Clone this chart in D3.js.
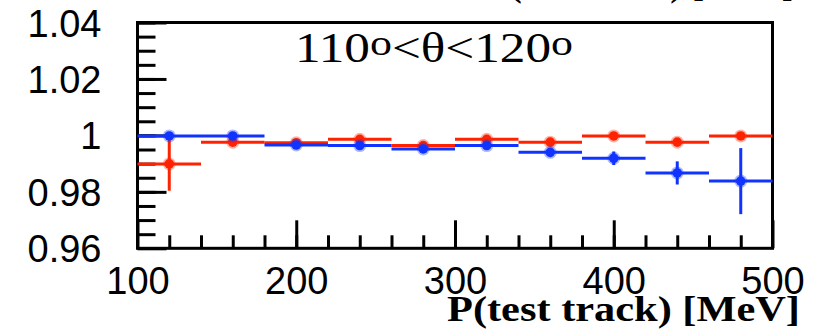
<!DOCTYPE html>
<html>
<head>
<meta charset="utf-8">
<script src="https://cdn.jsdelivr.net/npm/d3@7"></script>
<style>
  body { margin: 0; background: #fff; }
</style>
</head>
<body>
<div id="plot"></div>
<script>
// momentum bins of the test track [MeV]
const binLow    = [100, 140, 180, 220, 260, 300, 340, 380, 420, 460];
const binHigh   = [140, 180, 220, 260, 300, 340, 380, 420, 460, 500];
const binCenter = [120, 160, 200, 240, 280, 320, 360, 400, 440, 480];

// red series
const redValues = [0.9899, 0.9976, 0.9974, 0.9986, 0.9964, 0.9986, 0.9976, 0.9998, 0.9976, 0.9998];
const redErrors = [0.0095, 0.0010, 0.0010, 0.0008, 0.0008, 0.0008, 0.0008, 0.0008, 0.0008, 0.0008];

// blue series
const blueValues = [0.9998, 0.9998, 0.9966, 0.9964, 0.9952, 0.9964, 0.9940, 0.9919, 0.9867, 0.9838];
const blueErrors = [0.0008, 0.0008, 0.0008, 0.0008, 0.0008, 0.0008, 0.0012, 0.0024, 0.0041, 0.0117];

const xTicks = [100, 200, 300, 400, 500];
const xTickLabels = ["100", "200", "300", "400", "500"];
const yTicks = [0.96, 0.98, 1, 1.02, 1.04];
const yTickLabels = ["0.96", "0.98", "1", "1.02", "1.04"];

const xTitle = "P(test track) [MeV]";

// set svg dimensions and margins
const svgWidth = 816;
const svgHeight = 332;
const margin = {top: 22.5, right: 43.5, bottom: 83.7, left: 137.5};
const width = svgWidth - margin.left - margin.right;
const height = svgHeight - margin.top - margin.bottom;

let root = d3.select("#plot")
  .append("svg")
  .attr("width", svgWidth)
  .attr("height", svgHeight)
  .style("background-color", "#ffffff");

let svg = root.append("g")
  .attr("transform", "translate(" + margin.left + "," + margin.top + ")");

var xScale = d3.scaleLinear().domain([100, 500]).range([0, width]);
var yScale = d3.scaleLinear().domain([0.96, 1.04]).range([height, 0]);

// minor ticks (inside the frame, ROOT style)
svg.append("g")
  .attr("class", "minor")
  .attr("transform", "translate(0," + height + ")")
  .call(d3.axisBottom(xScale).tickValues(d3.range(120, 500, 20)).tickSize(-13).tickFormat(""));
svg.append("g")
  .attr("class", "minor")
  .call(d3.axisLeft(yScale).tickValues(d3.range(0.965, 1.04, 0.005)).tickSize(-18).tickFormat(""));

// major ticks + labels
let xAxis = svg.append("g")
  .attr("transform", "translate(0," + height + ")")
  .call(d3.axisBottom(xScale).tickValues(xTicks).tickSize(-28)
    .tickFormat(function(d, i) { return xTickLabels[i]; }));
xAxis.selectAll("text").attr("y", 46).attr("dy", 0);

let yAxis = svg.append("g")
  .call(d3.axisLeft(yScale).tickValues(yTicks).tickSize(-29)
    .tickFormat(function(d, i) { return yTickLabels[i]; }));
yAxis.selectAll("text").attr("x", -36).attr("dy", 13.5);

svg.selectAll(".domain").remove();
svg.selectAll(".tick line").attr("stroke", "#000").attr("stroke-width", 3);
svg.selectAll(".tick text")
  .attr("fill", "#000")
  .style("font-family", "'Liberation Sans', Arial, sans-serif")
  .style("font-size", "38px");

// frame
svg.append("rect")
  .attr("x", 0).attr("y", 0)
  .attr("width", width).attr("height", height)
  .attr("fill", "none")
  .attr("stroke", "#000")
  .attr("stroke-width", 3);

// draw one series: horizontal bin bars, vertical error bars, markers
function drawSeries(values, errors, color) {
  let g = svg.append("g");
  g.selectAll(".hbar")
    .data(values)
    .enter().append("line")
    .attr("x1", function(d, i) { return xScale(binLow[i]); })
    .attr("x2", function(d, i) { return xScale(binHigh[i]); })
    .attr("y1", function(d) { return yScale(d); })
    .attr("y2", function(d) { return yScale(d); })
    .attr("stroke", color)
    .attr("stroke-width", 3);
  g.selectAll(".vbar")
    .data(values)
    .enter().append("line")
    .attr("x1", function(d, i) { return xScale(binCenter[i]); })
    .attr("x2", function(d, i) { return xScale(binCenter[i]); })
    .attr("y1", function(d, i) { return yScale(d - errors[i]); })
    .attr("y2", function(d, i) { return yScale(d + errors[i]); })
    .attr("stroke", color)
    .attr("stroke-width", 3);
  g.selectAll(".halo")
    .data(values)
    .enter().append("circle")
    .attr("cx", function(d, i) { return xScale(binCenter[i]); })
    .attr("cy", function(d) { return yScale(d); })
    .attr("r", 6.5)
    .attr("fill", color)
    .attr("fill-opacity", 0.35);
  g.selectAll(".marker")
    .data(values)
    .enter().append("circle")
    .attr("cx", function(d, i) { return xScale(binCenter[i]); })
    .attr("cy", function(d) { return yScale(d); })
    .attr("r", 4.8)
    .attr("fill", color);
}

drawSeries(redValues, redErrors, "#ff2200");
drawSeries(blueValues, blueErrors, "#1133ff");

// angular range label
let label = svg.append("text")
  .attr("x", 295 - margin.left)
  .attr("y", 62 - margin.top)
  .attr("textLength", 278)
  .attr("lengthAdjust", "spacingAndGlyphs")
  .style("font-family", "'Liberation Serif', 'Times New Roman', serif")
  .style("font-size", "42px")
  .attr("fill", "#000");
label.append("tspan").text("110");
label.append("tspan").attr("dy", -7).style("font-size", "36px").text("o");
label.append("tspan").attr("dy", 7).text("<θ<120");
label.append("tspan").attr("dy", -7).style("font-size", "36px").text("o");

// x axis title
root.append("text")
  .attr("x", 447)
  .attr("y", 321)
  .attr("textLength", 353)
  .attr("lengthAdjust", "spacingAndGlyphs")
  .style("font-family", "'Liberation Serif', 'Times New Roman', serif")
  .style("font-weight", "bold")
  .style("font-size", "35px")
  .attr("fill", "#000")
  .text(xTitle);

// title of the pad above, only its lower tips show
root.append("text")
  .attr("x", 487)
  .attr("y", -4)
  .attr("textLength", 307)
  .attr("lengthAdjust", "spacingAndGlyphs")
  .style("font-family", "'Liberation Serif', 'Times New Roman', serif")
  .style("font-weight", "bold")
  .style("font-size", "35px")
  .attr("fill", "#000")
  .text(xTitle);
</script>
</body>
</html>
